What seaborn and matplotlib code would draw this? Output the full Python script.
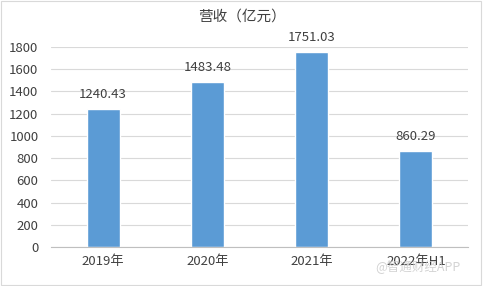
import matplotlib
matplotlib.use("Agg")
import matplotlib.pyplot as plt
import seaborn as sns
import pandas as pd

categories = ["2019年", "2020年", "2021年", "2022年H1"]
values = [1240.43, 1483.48, 1751.03, 860.29]
value_labels = ["1240.43", "1483.48", "1751.03", "860.29"]
yticks = [0, 200, 400, 600, 800, 1000, 1200, 1400, 1600, 1800]
title = "营收（亿元）"

sns.set_theme(style="white")
plt.rcParams['font.family'] = ['Noto Sans CJK SC', 'DejaVu Sans']

df = pd.DataFrame({"cat": categories, "val": values})

fig = plt.figure(figsize=(4.83, 2.86), dpi=100)
ax = fig.add_axes([51/483, 1-247/286, (468-51)/483, (247-47)/286])

sns.barplot(data=df, x="cat", y="val", color="#5B9BD5", saturation=1, width=0.315, ax=ax)

ax.set_ylim(0, 1800)
ax.set_yticks(yticks)
ax.set_yticklabels([str(t) for t in yticks], fontsize=9.5, color="#404040")
ax.yaxis.grid(True, color="#D9D9D9", linewidth=0.8)
ax.set_axisbelow(True)
ax.tick_params(axis="y", length=0, pad=9)
ax.tick_params(axis="x", length=0, labelsize=9.5, labelcolor="#404040", pad=6)
ax.set_xlabel("")
ax.set_ylabel("")
for s in ["top", "right", "left"]:
    ax.spines[s].set_visible(False)
ax.spines["bottom"].set_color("#BFBFBF")
ax.spines["bottom"].set_linewidth(0.8)

for i, (v, lab) in enumerate(zip(values, value_labels)):
    ax.annotate(lab, (i, v), xytext=(0, 6), textcoords="offset points",
                ha="center", va="bottom", fontsize=9.5, color="#404040")

fig.text(0.5, 1-17/286, title, ha="center", va="center", fontsize=10.5,
         color="#404040", fontweight="medium")

fig.text(0.866, 1-266/286, "@智通财经APP", ha="center", va="center", fontsize=9,
         color="#C8C8C8", alpha=0.8)

border = plt.Rectangle((0.002, 0.002), 0.994, 0.994, transform=fig.transFigure,
                       fill=False, edgecolor="#D9D9D9", linewidth=0.8)
fig.patches.append(border)

fig.savefig("out.png", dpi=100, facecolor="white")
